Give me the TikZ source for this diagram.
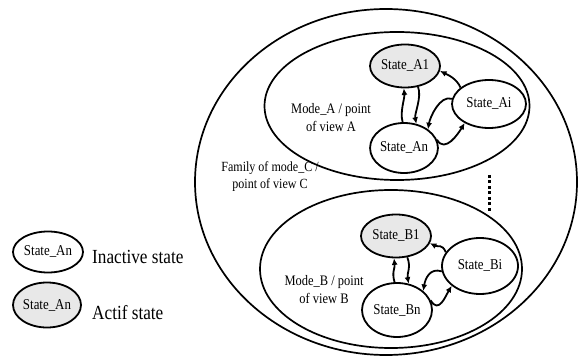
\documentclass[tikz,border=0pt]{standalone}
\usepackage{fontspec}
\setmainfont{Liberation Serif}[FakeStretch=0.86]
\usetikzlibrary{shapes.geometric,arrows.meta}
\tikzset{
  ring/.style={draw, line width=1.7pt, ellipse, inner sep=0pt},
  state/.style={draw, line width=1.8pt, ellipse, inner sep=0pt,
    font=\fontsize{15}{17}\selectfont},
  activestate/.style={state, fill=gray!18},
  note/.style={align=center, inner sep=0pt, font=\fontsize{14.5}{18}\selectfont},
  legendtext/.style={anchor=west, inner sep=0pt, font=\fontsize{20}{22}\selectfont},
  trans/.style={line width=1.8pt, -{Latex[length=6.5pt,width=6pt]}},
  dotline/.style={line width=3pt, dash pattern=on 3pt off 2.5pt}
}
\begin{document}
\begin{tikzpicture}[x=1pt, y=-1pt]
\useasboundingbox (0,0) rectangle (578,358);

% containers
\node[ring, minimum width=382pt, minimum height=346pt] (famC) at (386,182) {};
\node[ring, minimum width=265pt, minimum height=148pt] (modeA) at (397,106) {};
\node[ring, minimum width=262pt, minimum height=158pt] (modeB) at (391,269) {};

% states of mode A
\node[activestate, minimum width=70pt, minimum height=43pt] (A1) at (405,66) {State\_A1};
\node[state, minimum width=66pt, minimum height=50pt] (An) at (404,148) {State\_An};
\node[state, minimum width=74pt, minimum height=48pt] (Ai) at (489,104) {State\_Ai};

% states of mode B
\node[activestate, minimum width=70pt, minimum height=43pt] (B1) at (396,236) {State\_B1};
\node[state, minimum width=70pt, minimum height=54pt] (Bn) at (397,310) {State\_Bn};
\node[state, minimum width=76pt, minimum height=56pt] (Bi) at (480,266) {State\_Bi};

% labels
\node[note] (labA) at (331,118) {Mode\_A / point\\of view A};
\node[note] (labB) at (324,290) {Mode\_B / point\\of view B};
\node[note, font=\fontsize{14}{17}\selectfont] (labC) at (270,177) {Family of mode\_C /\\point of view C};

% transitions in mode A
\draw[trans] (An.93) .. controls +(-3,-10) and +(1,10) .. (A1.-93);
\draw[trans] (A1.-58) .. controls +(4,10) and +(-2,-10) .. (An.63);
\draw[trans] (Ai.150) .. controls +(-4,-9) and +(8,4) .. (A1.-8);
\draw[trans] (Ai.172) .. controls +(-12,-4) and +(2,-12) .. (An.38);
\draw[trans] (An.14) .. controls +(8,14) and +(-6,10) .. (Ai.-142);

% transitions in mode B
\draw[trans] (Bn.95) .. controls +(-3,-10) and +(1,10) .. (B1.-95);
\draw[trans] (B1.-62) .. controls +(4,10) and +(-2,-10) .. (Bn.66);
\draw[trans] (Bi.158) .. controls +(-4,-9) and +(8,4) .. (B1.-12);
\draw[trans] (Bi.-172) .. controls +(-12,-4) and +(2,-12) .. (Bn.36);
\draw[trans] (Bn.16) .. controls +(8,14) and +(-6,10) .. (Bi.-145);

% more modes in between
\coordinate (dotTop) at (489,175);
\coordinate (dotBot) at (489,213);
\draw[dotline] (dotTop) -- (dotBot);

% legend
\node[state, minimum width=70pt, minimum height=41pt] (legIn) at (48,252) {State\_An};
\node[activestate, minimum width=68pt, minimum height=45pt] (legAct) at (47,305) {State\_An};
\node[legendtext] (txtIn) at (92,257) {Inactive state};
\node[legendtext] (txtAct) at (92,313) {Actif state};
\end{tikzpicture}
\end{document}
